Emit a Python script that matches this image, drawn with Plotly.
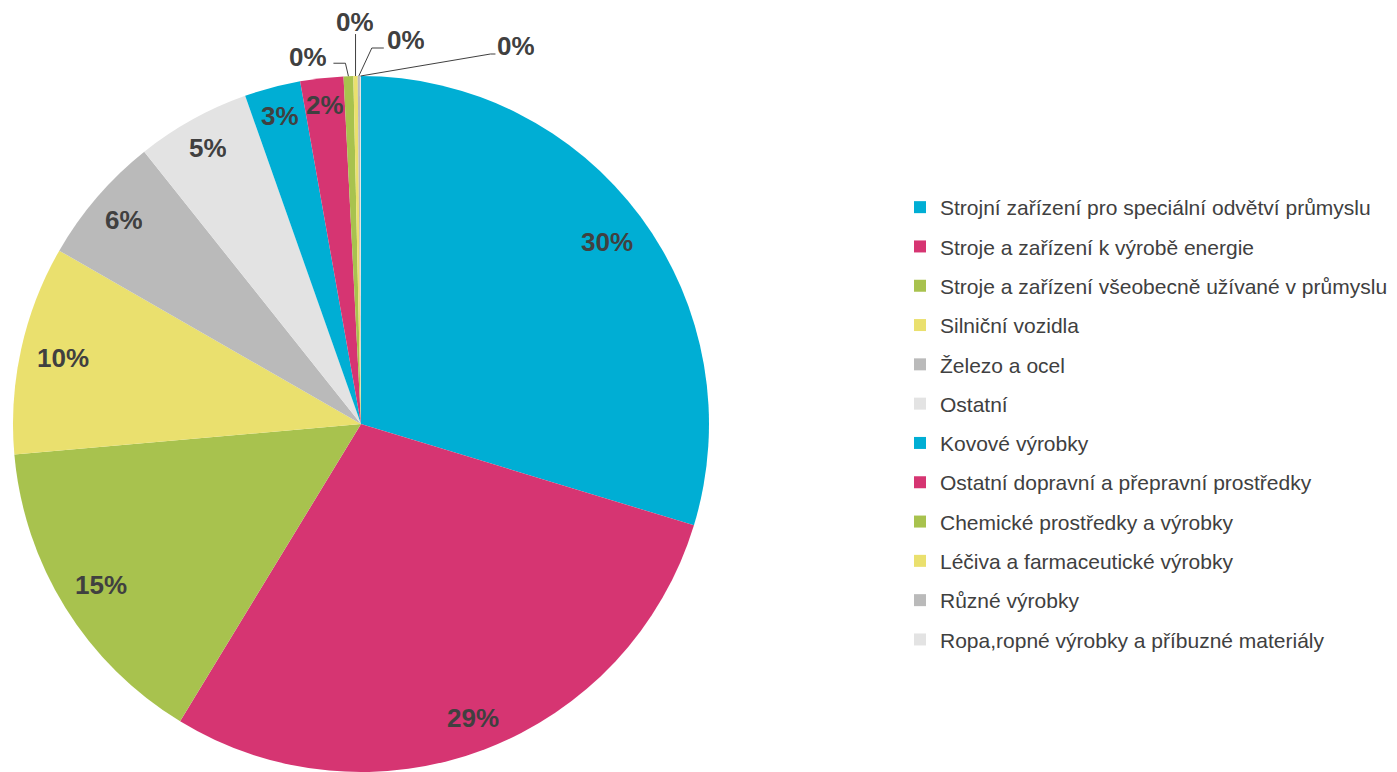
import math
import plotly.graph_objects as go

categories = [
    "Strojní zařízení pro speciální odvětví průmyslu",
    "Stroje a zařízení k výrobě energie",
    "Stroje a zařízení všeobecně užívané v průmyslu",
    "Silniční vozidla",
    "Železo a ocel",
    "Ostatní",
    "Kovové výrobky",
    "Ostatní dopravní a přepravní prostředky",
    "Chemické prostředky a výrobky",
    "Léčiva a farmaceutické výrobky",
    "Různé výrobky",
    "Ropa,ropné výrobky a příbuzné materiály",
]
values = [29.7, 29.0, 14.9, 9.7, 6.0, 5.3, 2.6, 2.0, 0.45, 0.2, 0.1, 0.05]
colors = ["#00AED4", "#D63572", "#A8C24E", "#EAE06E", "#BABABA", "#E3E3E3",
          "#00AED4", "#D63572", "#A8C24E", "#EAE06E", "#BABABA", "#E3E3E3"]

PAGE_OFF = 8  # browser body margin
W, H = 1397 - PAGE_OFF, 772 - PAGE_OFF
ML, MR, MT, MB = 5, 0, 68, 0
PW, PH = W - ML - MR, H - MT - MB
R = PH / 2.0
CX, CY = ML + R, MT + R  # in figure px

LABEL_COLOR = "#404040"
FONT = "Liberation Sans, Arial, sans-serif"
LABEL_SIZE = 26

fig = go.Figure()
fig.add_trace(go.Pie(
    labels=categories, values=values, sort=False, direction="clockwise",
    rotation=0, marker=dict(colors=colors, line=dict(width=0)),
    textinfo="none", showlegend=False, hoverinfo="label+percent",
    domain=dict(x=[0, (2 * R) / PW], y=[0, 1]),
))

# legend entries
for i, (c, col) in enumerate(zip(categories, colors)):
    fig.add_trace(go.Scatter(
        x=[None], y=[None], mode="markers", name=c, legendgroup=f"g{i}",
        marker=dict(symbol="square", size=12, color=col), showlegend=True,
    ))

def to_paper(px, py):
    return (px - ML) / PW, 1 - (py - MT) / PH

total = sum(values)
cum = 0.0
# leader styling for tiny slices: (elbow offset, end offset, text offset) in px
leaders = {
    8: ((-3, -13), (-15, -13), (-40, -19)),
    9: ((0, -42), (0, -42), (-1, -54)),
    10: ((13, -28), (25, -28), (47, -36)),
    11: ((130, -22), (135, -22), (156, -30)),
}
shapes = []
for i, v in enumerate(values):
    frac = v / total
    mid = (cum + frac / 2) * 2 * math.pi
    cum += frac
    pct = f"{round(frac * 100):.0f}"
    txt = f"<b>{pct}%</b>"
    if i in leaders:
        ex = CX + R * math.sin(mid)
        ey = CY - R * math.cos(mid)
        (bx, by), (dx, dy), (tx, ty) = leaders[i]
        p0 = to_paper(ex, ey)
        p1 = to_paper(ex + bx, ey + by)
        p2 = to_paper(ex + dx, ey + dy)
        shapes.append(dict(
            type="path", xref="paper", yref="paper",
            path=f"M {p0[0]} {p0[1]} L {p1[0]} {p1[1]} L {p2[0]} {p2[1]}",
            line=dict(color=LABEL_COLOR, width=1)))
        x, y = to_paper(ex + tx, ey + ty)
    else:
        # keep the label box's outer edge a fixed distance inside the rim
        tw = (len(pct) * 0.556 + 0.889) * LABEL_SIZE
        th = 20
        ext = tw / 2 * abs(math.sin(mid)) + th / 2 * abs(math.cos(mid))
        rr = R * (335 / 350) - ext
        x, y = to_paper(CX + rr * math.sin(mid), CY - rr * math.cos(mid))
    fig.add_annotation(x=x, y=y, xref="paper", yref="paper", text=txt,
                       showarrow=False, height=26, borderpad=0,
                       font=dict(family=FONT, size=LABEL_SIZE, color=LABEL_COLOR),
                       xanchor="center", yanchor="middle")

LEG_LEFT, LEG_TOP = 892, 179  # figure px
fig.update_layout(
    width=W, height=H,
    margin=dict(l=ML, r=MR, t=MT, b=MB),
    paper_bgcolor="white", plot_bgcolor="white",
    xaxis=dict(visible=False), yaxis=dict(visible=False),
    shapes=shapes,
    legend=dict(xref="paper", yref="paper", x=(LEG_LEFT - ML) / PW,
                y=1 - (LEG_TOP - MT) / PH,
                xanchor="left", yanchor="top", tracegroupgap=9,
                font=dict(family=FONT, size=21, color=LABEL_COLOR),
                itemwidth=30, bgcolor="rgba(0,0,0,0)", maxheight=600),
    font=dict(family=FONT),
)

fig.write_html("out.html")
